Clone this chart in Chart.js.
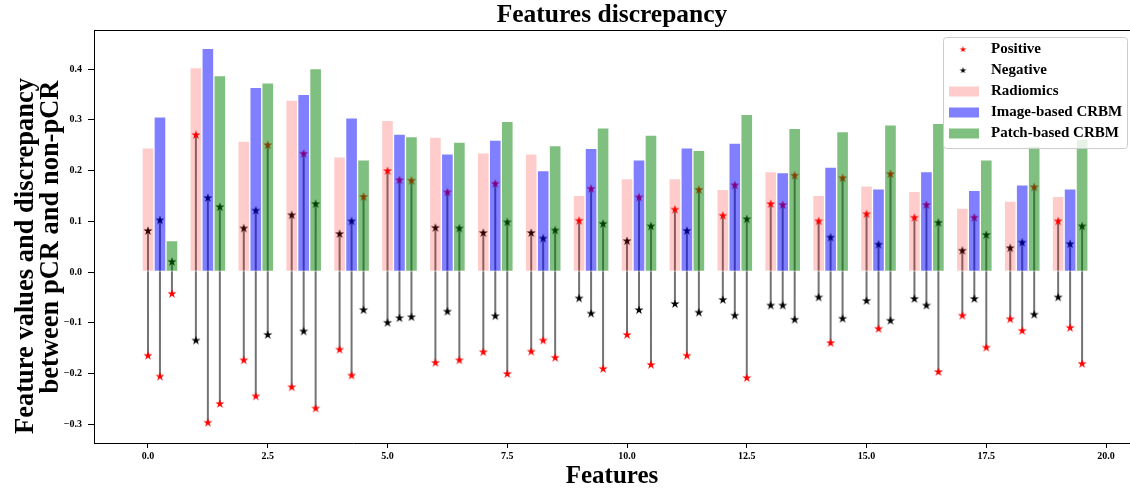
<!DOCTYPE html>
<html>
<head>
<meta charset="utf-8">
<title>Features discrepancy</title>
<script src="https://cdn.jsdelivr.net/npm/chart.js@4.4.1/dist/chart.umd.min.js"></script>
<style>
  html, body { margin: 0; padding: 0; background: #fff; }
  #wrap { width: 1130px; height: 489px; position: relative; }
</style>
</head>
<body>
<div id="wrap"><canvas id="discrepancy-canvas"></canvas></div>
<script>
// Номера признаков и сдвиги столбцов внутри группы
const features = [0, 1, 2, 3, 4, 5, 6, 7, 8, 9, 10, 11, 12, 13, 14, 15, 16, 17, 18, 19];
const offsets = [0, 0.25, 0.5];
const xTicks = [0, 2.5, 5, 7.5, 10, 12.5, 15, 17.5, 20];
const yTicks = [-0.3, -0.2, -0.1, 0, 0.1, 0.2, 0.3, 0.4];

// Высоты столбцов
const radiomicsBar = [0.245, 0.403, 0.258, 0.339, 0.227, 0.299, 0.266, 0.235, 0.233, 0.151, 0.184, 0.184, 0.163, 0.198, 0.151, 0.170, 0.159, 0.126, 0.140, 0.149];
const imageBar = [0.306, 0.441, 0.364, 0.350, 0.304, 0.272, 0.233, 0.260, 0.200, 0.244, 0.221, 0.245, 0.254, 0.196, 0.207, 0.164, 0.198, 0.161, 0.172, 0.164];
const patchBar = [0.062, 0.387, 0.373, 0.401, 0.221, 0.267, 0.256, 0.297, 0.249, 0.284, 0.270, 0.240, 0.311, 0.283, 0.277, 0.290, 0.293, 0.221, 0.248, 0.262];

// Значения для pCR (красные звёзды)
const radiomicsPos = [-0.165, 0.270, -0.174, -0.227, -0.153, 0.199, -0.179, -0.158, -0.157, 0.101, -0.124, 0.123, 0.111, 0.134, 0.100, 0.114, 0.107, -0.086, -0.093, 0.100];
const imagePos = [-0.206, -0.297, -0.245, 0.233, -0.204, 0.181, 0.157, 0.174, -0.135, 0.164, 0.147, -0.165, 0.171, 0.132, -0.140, -0.112, 0.132, 0.107, -0.116, -0.110];
const patchPos = [-0.043, -0.260, 0.250, -0.269, 0.148, 0.180, -0.174, -0.201, -0.169, -0.191, -0.183, 0.162, -0.209, 0.190, 0.185, 0.193, -0.197, -0.149, 0.167, -0.181];

// Значения для non-pCR (чёрные звёзды)
const radiomicsNeg = [0.081, -0.135, 0.086, 0.112, 0.075, -0.100, 0.087, 0.077, 0.077, -0.052, 0.061, -0.063, -0.055, -0.066, -0.050, -0.057, -0.053, 0.042, 0.047, -0.050];
const imageNeg = [0.102, 0.146, 0.121, -0.117, 0.100, -0.091, -0.078, -0.087, 0.066, -0.082, -0.075, 0.081, -0.086, -0.066, 0.068, 0.054, -0.066, -0.053, 0.058, 0.055];
const patchNeg = [0.020, 0.128, -0.124, 0.134, -0.075, -0.089, 0.086, 0.098, 0.082, 0.095, 0.090, -0.080, 0.104, -0.094, -0.092, -0.096, 0.097, 0.073, -0.084, 0.090];

const serif = "'Liberation Serif', 'Times New Roman', serif";
const positives = [radiomicsPos, imagePos, patchPos];
const negatives = [radiomicsNeg, imageNeg, patchNeg];
const yTitle = ['Feature values and discrepancy', 'between pCR and non-pCR'];

// Рисуем звезду как у matplotlib ('*')
const makeStar = (color, r) => {
  const size = Math.ceil(r * 2 + 2);
  const c = document.createElement('canvas');
  c.width = size;
  c.height = size;
  const g = c.getContext('2d');
  g.fillStyle = color;
  g.beginPath();
  for (let k = 0; k < 10; k++) {
    const rad = k % 2 === 0 ? r : r * 0.382;
    const a = -Math.PI / 2 + k * Math.PI / 5;
    const px = size / 2 + rad * Math.cos(a);
    const py = size / 2 + rad * Math.sin(a);
    if (k === 0) g.moveTo(px, py); else g.lineTo(px, py);
  }
  g.closePath();
  g.fill();
  return c;
};

const barDataset = (label, values, off, color) => ({
  type: 'bar',
  label: label,
  data: features.map((f, i) => ({ x: f + off, y: values[i] })),
  backgroundColor: color,
  borderColor: 'rgba(255, 255, 255, 0.5)',
  borderWidth: 1,
  borderSkipped: false,
  grouped: false,
  barPercentage: 1,
  categoryPercentage: 1,
  order: 0 // столбцы поверх звёзд
});

const starPoints = (lists) => features.flatMap((f, i) => offsets.map((off, m) => ({ x: f + off, y: lists[m][i] })));

// Вертикальные отрезки между звёздами (null рвёт линию)
const stemPoints = features.flatMap((f, i) => offsets.flatMap((off, m) => [
  { x: f + off, y: positives[m][i] },
  { x: f + off, y: negatives[m][i] },
  { x: f + off, y: null }
]));

const legendItems = [
  { label: 'Positive', star: makeStar('#ff0000', 3.5) },
  { label: 'Negative', star: makeStar('#000000', 3.5) },
  { label: 'Radiomics', color: 'rgba(255, 0, 0, 0.2)' },
  { label: 'Image-based CRBM', color: 'rgba(0, 0, 255, 0.5)' },
  { label: 'Patch-based CRBM', color: 'rgba(0, 128, 0, 0.5)' }
];

// Верхняя рамка, подпись оси Y и легенда
const framePlugin = {
  id: 'frame',
  afterDraw: (chart) => {
    const { ctx, chartArea } = chart;
    ctx.save();
    ctx.strokeStyle = '#000';
    ctx.lineWidth = 1;
    ctx.beginPath();
    ctx.moveTo(chartArea.left, chartArea.top + 0.5);
    ctx.lineTo(chartArea.right, chartArea.top + 0.5);
    ctx.stroke();

    // подпись оси Y в две строки
    ctx.fillStyle = '#000';
    ctx.font = 'bold 26.5px ' + serif;
    ctx.textAlign = 'center';
    ctx.textBaseline = 'middle';
    [[26, 256], [51, 237]].forEach(([tx, ty], k) => {
      ctx.save();
      ctx.translate(tx, ty);
      ctx.rotate(-Math.PI / 2);
      ctx.fillText(yTitle[k], 0, 0);
      ctx.restore();
    });

    const bx = 943, by = 37, bw = 184, bh = 111;
    ctx.fillStyle = 'rgba(255, 255, 255, 0.8)';
    ctx.strokeStyle = '#cccccc';
    ctx.beginPath();
    ctx.roundRect(bx + 0.5, by + 0.5, bw, bh, 3);
    ctx.fill();
    ctx.stroke();

    ctx.font = 'bold 15px ' + serif;
    ctx.textBaseline = 'middle';
    ctx.textAlign = 'left';
    legendItems.forEach((item, k) => {
      const cy = 49.5 + k * 21;
      if (item.star) {
        ctx.drawImage(item.star, 963 - item.star.width / 2, cy - item.star.height / 2);
      } else {
        ctx.fillStyle = item.color;
        ctx.fillRect(949, cy - 5, 30, 10);
      }
      ctx.fillStyle = '#000';
      ctx.fillText(item.label, 991, cy);
    });
    ctx.restore();
  }
};

const tickFont = { family: serif, size: 10, weight: 'bold' };

const ctx = document.getElementById('discrepancy-canvas').getContext('2d');
window.discrepancyChart = new Chart(ctx, {
  type: 'bar',
  data: {
    datasets: [
      barDataset('Radiomics', radiomicsBar, offsets[0], 'rgba(255, 0, 0, 0.2)'),
      barDataset('Image-based CRBM', imageBar, offsets[1], 'rgba(0, 0, 255, 0.5)'),
      barDataset('Patch-based CRBM', patchBar, offsets[2], 'rgba(0, 128, 0, 0.5)'),
      {
        type: 'scatter',
        label: 'Positive',
        data: starPoints(positives),
        pointStyle: makeStar('#ff0000', 4.8),
        order: 1
      },
      {
        type: 'scatter',
        label: 'Negative',
        data: starPoints(negatives),
        pointStyle: makeStar('#000000', 4.8),
        order: 1
      },
      {
        type: 'line',
        label: 'stems',
        data: stemPoints,
        borderColor: 'rgba(0, 0, 0, 0.55)',
        borderWidth: 2,
        pointRadius: 0,
        spanGaps: false,
        order: 2 // линии в самом низу
      }
    ]
  },
  options: {
    responsive: true,
    maintainAspectRatio: false,
    animation: false,
    devicePixelRatio: 1,
    layout: { padding: 0, autoPadding: false },
    plugins: {
      legend: { display: false },
      tooltip: { enabled: false },
      title: {
        display: true,
        text: 'Features discrepancy',
        fullSize: false,
        color: '#000',
        font: { family: serif, size: 25.5, weight: 'bold', lineHeight: '27px' },
        padding: { top: 2, bottom: 1 }
      }
    },
    scales: {
      x: {
        type: 'linear',
        offset: false,
        min: -1.127,
        max: 20.5,
        afterBuildTicks: (s) => { s.ticks = xTicks.map(v => ({ value: v })); },
        afterFit: (s) => { s.height = 46; },
        ticks: { callback: (v) => v.toFixed(1), font: tickFont, color: '#000', padding: 2, maxRotation: 0, autoSkip: false },
        grid: { offset: false, drawOnChartArea: false, drawTicks: true, tickLength: 5, color: '#000' },
        border: { display: true, color: '#000', width: 1 },
        title: {
          display: true,
          text: 'Features',
          color: '#000',
          font: { family: serif, size: 25, weight: 'bold', lineHeight: 1 },
          padding: { top: 0, bottom: 0 }
        }
      },
      y: {
        min: -0.337,
        max: 0.477,
        afterBuildTicks: (s) => { s.ticks = yTicks.map(v => ({ value: v })); },
        afterFit: (s) => { s.width = 94; },
        ticks: { callback: (v) => v.toFixed(1).replace('-', '\u2212'), font: tickFont, color: '#000', padding: 6 },
        grid: { drawOnChartArea: false, drawTicks: true, tickLength: 6, color: '#000' },
        border: { display: true, color: '#000', width: 1 },
        title: { display: false }
      }
    }
  },
  plugins: [framePlugin]
});
</script>
</body>
</html>
